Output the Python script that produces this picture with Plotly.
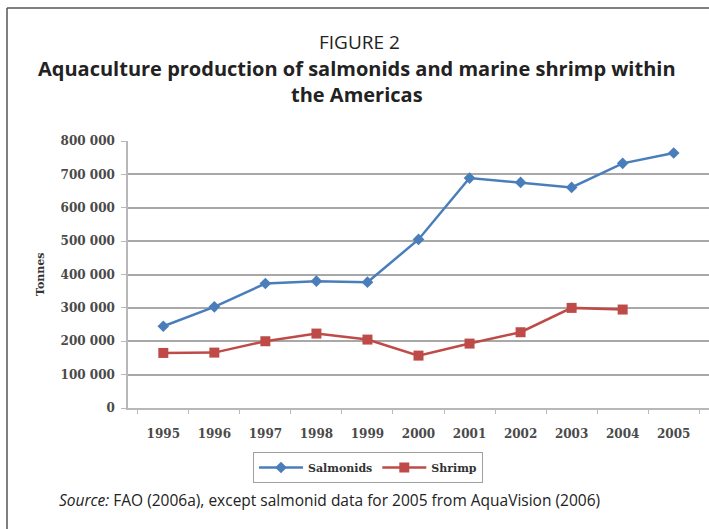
import plotly.graph_objects as go

years = ["1995", "1996", "1997", "1998", "1999", "2000", "2001", "2002", "2003", "2004", "2005"]
salmonids = [245000, 303000, 373000, 380000, 377000, 505000, 689000, 676000, 661000, 733000, 764000]
shrimp = [165000, 166000, 200000, 223000, 205000, 157000, 193000, 227000, 300000, 295000, None]
ytick_vals = [0, 100000, 200000, 300000, 400000, 500000, 600000, 700000, 800000]
ytick_text = ["0", "100 000", "200 000", "300 000", "400 000", "500 000", "600 000", "700 000", "800 000"]

W, H = 709, 529
L, R, T, B = 128, 0, 141, 121
pw, ph = W - L - R, H - T - B

def px(x):
    return (x - L) / pw

def py(y):
    return (H - B - y) / ph

fig = go.Figure()
fig.add_trace(go.Scatter(
    x=years, y=salmonids, name="Salmonids", mode="lines+markers",
    line=dict(color="#4a7ebb", width=2.5),
    marker=dict(symbol="diamond", size=9, color="#4a7ebb"),
))
fig.add_trace(go.Scatter(
    x=years, y=shrimp, name="Shrimp", mode="lines+markers",
    line=dict(color="#be4b48", width=2.5),
    marker=dict(symbol="square", size=10, color="#be4b48"),
))

serif = "DejaVu Serif"
sans = "Open Sans"

fig.update_layout(
    width=W, height=H,
    margin=dict(l=L, r=R, t=T, b=B, autoexpand=False),
    paper_bgcolor="white", plot_bgcolor="white",
    showlegend=True,
    legend=dict(
        orientation="h", x=px(368), xanchor="center", y=py(452), yanchor="top",
        bordercolor="#a0a0a0", borderwidth=1,
        font=dict(family=serif, size=11, color="#333333", weight="bold"),
        itemwidth=44,
    ),
    xaxis=dict(
        type="category", showgrid=False, showline=True, linecolor="#b8b8b8", linewidth=1.5,
        ticks="outside", tickson="boundaries", ticklen=4, tickcolor="#b8b8b8",
        tickfont=dict(family=serif, size=12, color="#4a4a4a", weight="bold"),
        ticklabelstandoff=14,
    ),
    yaxis=dict(
        range=[0, 800000], tickvals=ytick_vals, ticktext=ytick_text,
        showgrid=True, gridcolor="#a8a8a8", gridwidth=1.5,
        showline=True, linecolor="#b8b8b8", linewidth=1.5,
        ticks="outside", ticklen=5, tickcolor="#b8b8b8",
        tickfont=dict(family=serif, size=12, color="#4a4a4a", weight="bold"),
        ticklabelstandoff=4,
        zeroline=False,
    ),
    font=dict(family=sans),
)

annotations = [
    dict(text="FIGURE 2", x=px(359), y=py(42), font=dict(family=sans, size=19, color="#222222")),
    dict(text="<b>Aquaculture production of salmonids and marine shrimp within</b>", x=px(357), y=py(68),
         font=dict(family=sans, size=20, color="#222222")),
    dict(text="<b>the Americas</b>", x=px(357), y=py(94), font=dict(family=sans, size=20, color="#222222")),
    dict(text="<b>Tonnes</b>", x=px(40), y=py(275), textangle=-90,
         font=dict(family=serif, size=11, color="#333333")),
    dict(text="<i>Source:</i> FAO (2006a), except salmonid data for 2005 from AquaVision (2006)",
         x=px(57), y=py(500), xanchor="left", font=dict(family=sans, size=15.5, color="#222222")),
]
for a in annotations:
    a.setdefault("xanchor", "center")
    a.update(xref="paper", yref="paper", yanchor="middle", showarrow=False)
fig.update_layout(annotations=annotations)

fig.update_layout(shapes=[
    dict(type="line", xref="paper", yref="paper", x0=px(7), x1=px(7), y0=py(8), y1=py(530),
         line=dict(color="#555555", width=1.5)),
    dict(type="line", xref="paper", yref="paper", x0=px(7), x1=px(710), y0=py(8), y1=py(8),
         line=dict(color="#555555", width=1.5)),
])

fig.write_html("out.html", config={"displayModeBar": False},
               post_script="document.body.style.margin='0';")
